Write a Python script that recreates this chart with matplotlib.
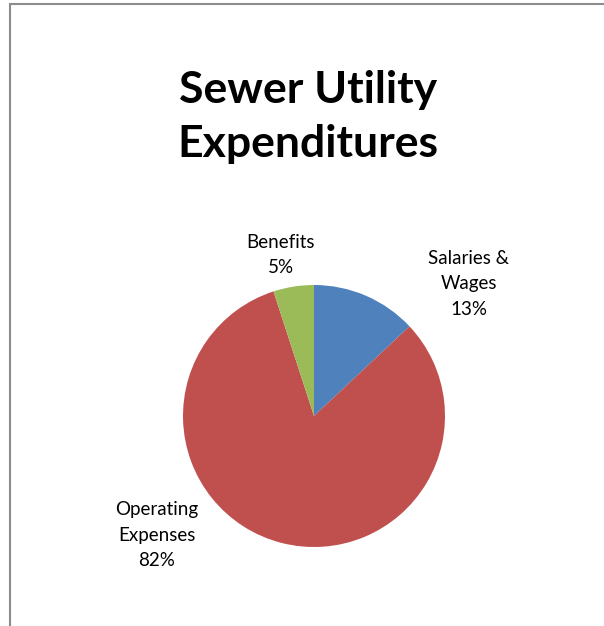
import matplotlib
matplotlib.use('Agg')
import matplotlib.pyplot as plt
from matplotlib.patches import Rectangle

# Sewer utility expenditure shares (percent)
categories = ['Salaries &\nWages', 'Operating\nExpenses', 'Benefits']
shares = [13, 82, 5]
colors = ['#4F81BD', '#C0504D', '#9BBB59']

W, H = 604, 626
fig = plt.figure(figsize=(W / 100, H / 100), dpi=100)
ax = fig.add_axes([0, 0, 1, 1])

# chart frame (open at the right and bottom edges)
fig.patches.append(Rectangle((10 / W, -0.1), 1.2, 1 - 4 / H + 0.1,
                             transform=fig.transFigure, fill=False,
                             edgecolor='#8c8c8c', linewidth=1.5))

ax.pie(shares, colors=colors, startangle=90, counterclock=False,
       center=(314, H - 416), radius=131, frame=True,
       wedgeprops=dict(linewidth=0))
ax.set_xlim(0, W)
ax.set_ylim(0, H)
ax.axis('off')

ax.text(308, H - 117, 'Sewer Utility\nExpenditures', ha='center', va='center',
        fontsize=32, fontweight='bold', family='Lato', linespacing=1.45)

label_pos = [(469, H - 284), (157, H - 535), (281, H - 255)]
for name, val, (x, y) in zip(categories, shares, label_pos):
    ax.text(x, y, f'{name}\n{val}%', ha='center', va='center',
            fontsize=13.5, family='Lato', linespacing=1.6, color='#000000')

fig.savefig('out.png', dpi=100)
